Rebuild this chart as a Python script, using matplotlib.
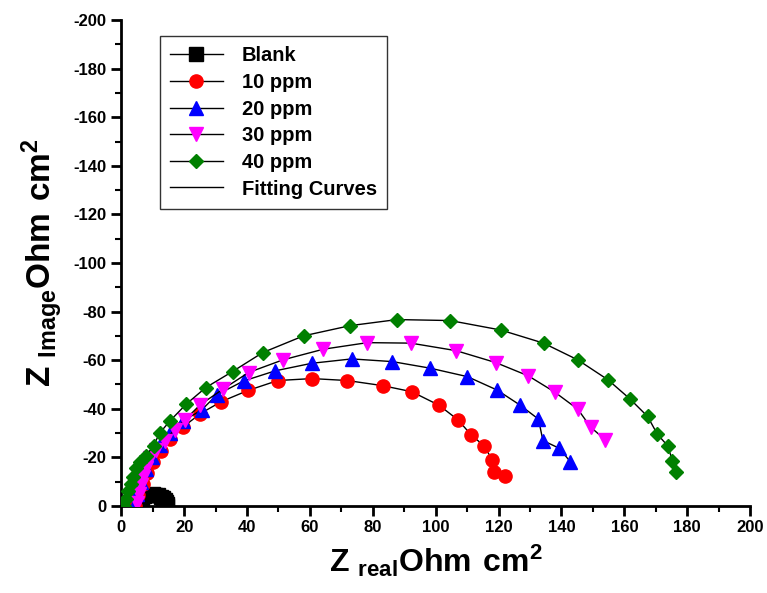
import matplotlib
matplotlib.use('Agg')
import matplotlib.pyplot as plt
from matplotlib.ticker import MultipleLocator

plt.rcParams['font.family'] = ['Liberation Sans', 'DejaVu Sans']
plt.rcParams['font.weight'] = 'bold'
plt.rcParams['axes.unicode_minus'] = False
plt.rcParams['mathtext.fontset'] = 'custom'
plt.rcParams['mathtext.bf'] = 'Liberation Sans:bold'
plt.rcParams['mathtext.rm'] = 'Liberation Sans:bold'

# Datos (Z real, Z imag)
blank_x = [4.8, 5.2, 5.8, 6.5, 7.3, 8.2, 9.1, 10.0, 10.9, 11.8, 12.6, 13.3, 13.8, 14.2, 14.5, 14.7]
blank_y = [0.3, -1.2, -2.3, -3.2, -3.9, -4.3, -4.6, -4.7, -4.6, -4.3, -3.8, -3.1, -2.3, -1.5, -0.6, 0.2]

ppm10_x = [4.5, 5.5, 6.8, 8.3, 10.2, 12.6, 15.6, 19.8, 25.2, 31.8, 40.3, 49.8, 60.7, 71.9,
           83.1, 92.4, 101.1, 107.1, 111.3, 115.4, 118.0, 118.4, 122.1]
ppm10_y = [0.0, -4.5, -9.0, -13.5, -18.0, -22.5, -27.4, -32.6, -38.0, -42.9, -47.5, -51.6,
           -52.4, -51.6, -49.5, -47.0, -41.4, -35.4, -29.2, -24.7, -18.9, -14.1, -12.1]

ppm20_x = [4.0, 5.0, 6.2, 7.8, 9.8, 12.3, 15.5, 19.8, 25.6, 30.4, 38.9, 49.0, 60.6, 73.3,
           86.2, 98.2, 110.1, 119.5, 126.7, 132.7, 134.1, 139.3, 142.8]
ppm20_y = [0.0, -5.0, -10.0, -15.0, -20.0, -25.0, -30.0, -35.0, -39.5, -45.7, -51.4, -55.6,
           -58.7, -60.5, -59.4, -56.7, -53.2, -47.7, -41.6, -35.7, -26.9, -23.7, -18.2]

ppm30_x = [5.0, 5.6, 6.3, 7.0, 8.0, 9.3, 11.2, 13.8, 17.0, 20.3, 25.1, 32.3, 40.5, 51.4,
           64.3, 78.3, 92.1, 106.5, 119.1, 129.5, 137.8, 145.2, 149.3, 153.9]
ppm30_y = [-1.0, -5.0, -8.5, -12.0, -15.5, -19.5, -23.0, -26.9, -31.3, -35.4, -41.6, -48.0,
           -54.9, -60.1, -64.5, -67.2, -67.0, -63.9, -59.0, -53.5, -46.9, -39.8, -32.4, -27.2]

ppm40_x = [1.0, 1.6, 2.3, 3.0, 3.8, 4.8, 6.0, 7.9, 10.3, 12.2, 15.6, 20.7, 26.9, 35.4,
           45.0, 58.0, 72.8, 87.7, 104.6, 120.7, 134.3, 145.2, 154.8, 161.8, 167.4, 170.5,
           173.8, 175.3, 176.5]
ppm40_y = [0.0, -3.0, -6.0, -9.0, -12.0, -15.5, -18.0, -20.6, -24.8, -29.9, -35.1, -41.9,
           -48.7, -55.3, -63.1, -70.0, -74.2, -76.7, -76.3, -72.4, -67.0, -60.1, -51.9, -44.0,
           -36.8, -29.5, -24.7, -18.5, -13.9]

series = [
    ('Blank', blank_x, blank_y, 's', 'black'),
    ('10 ppm', ppm10_x, ppm10_y, 'o', 'red'),
    ('20 ppm', ppm20_x, ppm20_y, '^', 'blue'),
    ('30 ppm', ppm30_x, ppm30_y, 'v', 'magenta'),
    ('40 ppm', ppm40_x, ppm40_y, 'D', 'green'),
]

fig = plt.figure(figsize=(7.67, 5.93), dpi=100)
ax = fig.add_axes([0.158, 0.147, 0.820, 0.819])

for nombre, xs, ys, marcador, color in series:
    tam = 7.5 if marcador == 'D' else 9.5
    ax.plot(xs, ys, color='black', linewidth=1, marker=marcador, markersize=tam,
            markerfacecolor=color, markeredgecolor=color, label=nombre, zorder=3)

# Curva de ajuste solo para la leyenda
ax.plot([], [], color='black', linewidth=1, label='Fitting Curves')

ax.set_xlim(0, 200)
ax.set_ylim(0, -200)
ax.xaxis.set_major_locator(MultipleLocator(20))
ax.xaxis.set_minor_locator(MultipleLocator(10))
ax.yaxis.set_major_locator(MultipleLocator(20))
ax.yaxis.set_minor_locator(MultipleLocator(10))

for lado in ['top', 'right']:
    ax.spines[lado].set_visible(False)
for lado in ['left', 'bottom']:
    ax.spines[lado].set_linewidth(2)

ax.tick_params(which='major', direction='out', length=7, width=2, labelsize=12)
ax.tick_params(which='minor', direction='out', length=4, width=1.5)
for lbl in ax.get_xticklabels() + ax.get_yticklabels():
    lbl.set_fontweight('bold')

ax.set_xlabel(r'$\mathbf{Z}$ $_{\mathbf{real}}\mathbf{Ohm\ cm^2}$', fontsize=23, labelpad=5)
ax.set_ylabel(r'$\mathbf{Z}$ $_{\mathbf{Image}}\mathbf{Ohm\ cm^2}$', fontsize=24, labelpad=6)

leg = ax.legend(loc='upper left', bbox_to_anchor=(0.062, 0.967), borderaxespad=0, frameon=True,
                fancybox=False, edgecolor='black', handlelength=2.6, borderpad=0.5,
                labelspacing=0.38, handletextpad=0.95, prop={'weight': 'bold', 'size': 14.5})
leg.get_frame().set_linewidth(1)

fig.savefig('out.png', dpi=100)
